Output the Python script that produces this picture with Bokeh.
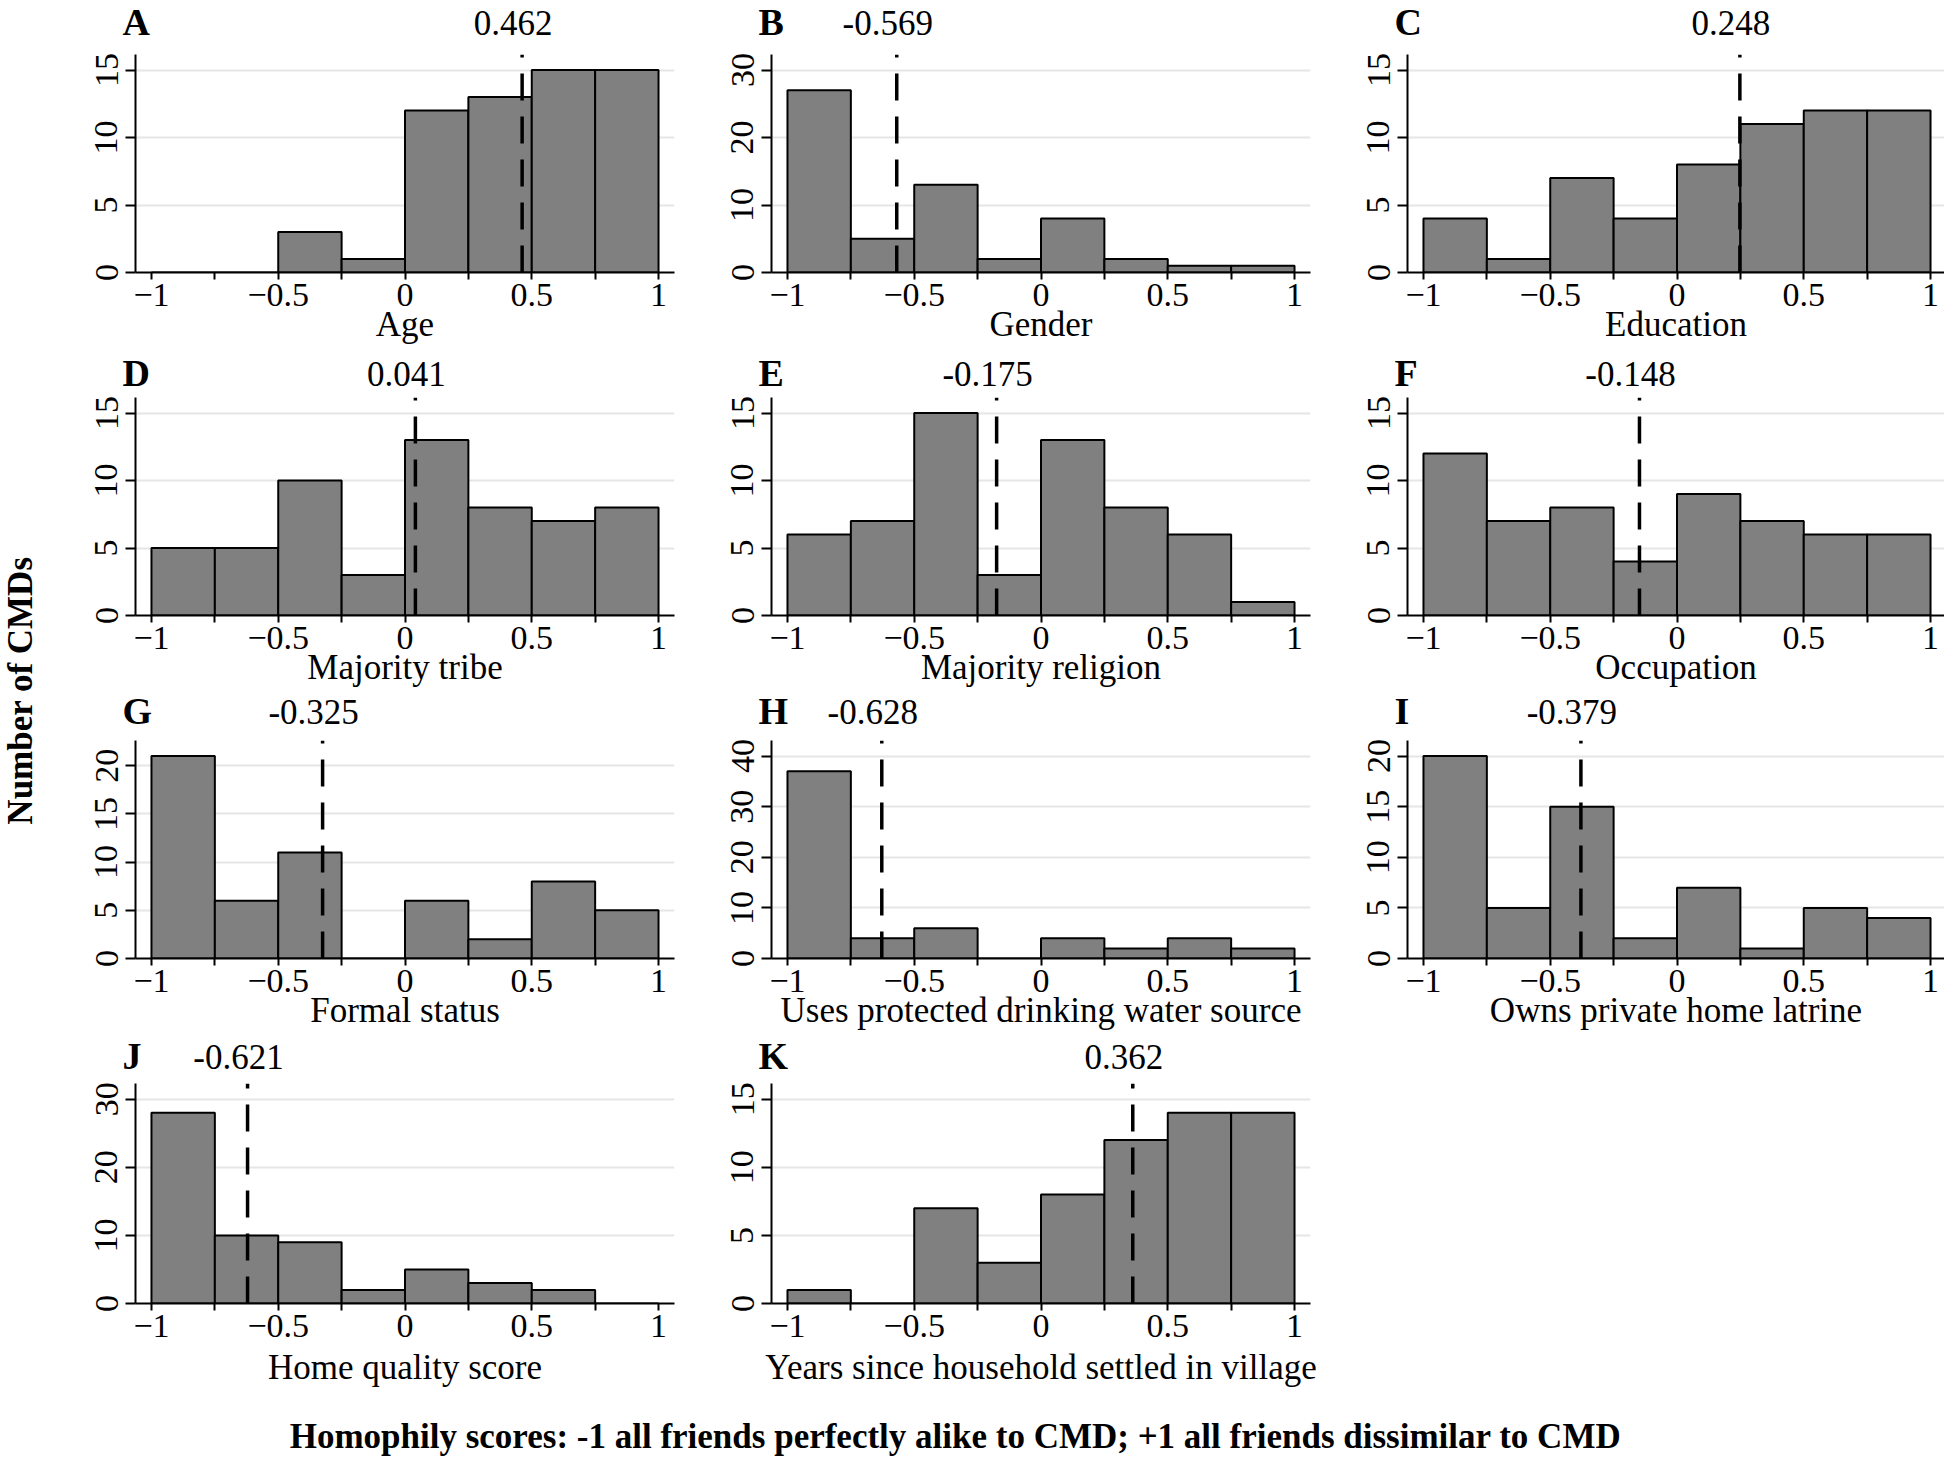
import math
from bokeh.plotting import figure
from bokeh.models import Range1d, FixedTicker, Label
from bokeh.layouts import row, column
from bokeh.embed import file_html
from bokeh.resources import INLINE

# ---------------- data ----------------
bin_edges = [-1.0, -0.75, -0.5, -0.25, 0.0, 0.25, 0.5, 0.75, 1.0]
x_ticks = [-1.0, -0.75, -0.5, -0.25, 0.0, 0.25, 0.5, 0.75, 1.0]
x_tick_labels = ["\u22121", "", "\u22120.5", "", "0", "", "0.5", "", "1"]

panel_letters = ["A", "B", "C", "D", "E", "F", "G", "H", "I", "J", "K"]
panel_titles = ["Age", "Gender", "Education", "Majority tribe", "Majority religion",
                "Occupation", "Formal status", "Uses protected drinking water source",
                "Owns private home latrine", "Home quality score",
                "Years since household settled in village"]

counts_age = [0, 0, 3, 1, 12, 13, 15, 15]
counts_gender = [27, 5, 13, 2, 8, 2, 1, 1]
counts_education = [4, 1, 7, 4, 8, 11, 12, 12]
counts_tribe = [5, 5, 10, 3, 13, 8, 7, 8]
counts_religion = [6, 7, 15, 3, 13, 8, 6, 1]
counts_occupation = [12, 7, 8, 4, 9, 7, 6, 6]
counts_formal = [21, 6, 11, 0, 6, 2, 8, 5]
counts_water = [37, 4, 6, 0, 4, 2, 4, 2]
counts_latrine = [20, 5, 15, 2, 7, 1, 5, 4]
counts_home = [28, 10, 9, 2, 5, 3, 2, 0]
counts_years = [1, 0, 7, 3, 8, 12, 14, 14]

mean_scores = [0.462, -0.569, 0.248, 0.041, -0.175, -0.148, -0.325, -0.628, -0.379, -0.621, 0.362]
mean_labels = ["0.462", "-0.569", "0.248", "0.041", "-0.175", "-0.148", "-0.325", "-0.628",
               "-0.379", "-0.621", "0.362"]

yticks_age = [0, 5, 10, 15]
yticks_gender = [0, 10, 20, 30]
yticks_education = [0, 5, 10, 15]
yticks_tribe = [0, 5, 10, 15]
yticks_religion = [0, 5, 10, 15]
yticks_occupation = [0, 5, 10, 15]
yticks_formal = [0, 5, 10, 15, 20]
yticks_water = [0, 10, 20, 30, 40]
yticks_latrine = [0, 5, 10, 15, 20]
yticks_home = [0, 10, 20, 30]
yticks_years = [0, 5, 10, 15]

y_axis_title = "Number of CMDs"
caption_text = "Homophily scores: -1 all friends perfectly alike to CMD; +1 all friends dissimilar to CMD"

all_counts = [counts_age, counts_gender, counts_education, counts_tribe, counts_religion,
              counts_occupation, counts_formal, counts_water, counts_latrine, counts_home,
              counts_years]
all_yticks = [yticks_age, yticks_gender, yticks_education, yticks_tribe, yticks_religion,
              yticks_occupation, yticks_formal, yticks_water, yticks_latrine, yticks_home,
              yticks_years]

# ---------------- style / geometry ----------------
FONT = "Liberation Serif"
BAR_FILL = "#808080"
GRID = "#e6e6e6"
FRAME_W = 539
FRAME_W_LAST = 537
FRAME_H = 220
LEFT = 87
COL_W = 636
YLAB_W = 48
HIST_TOP = 2
X0 = -1.063
PPX = FRAME_W / (2 * -X0)
header_heights = [52, 49, 49, 49]
bottom_borders = [72, 72, 72, 90]
label_offsets = [20, 12, 17, 15]       # px above frame for letter / value baseline
title_standoffs = [-4, -4, -4, 8]      # tuning of x-title distance
VALUE_SHIFT = 9                        # value text sits a little left of its line
CAP_H = 65
LETTER_SIZE = 38
VALUE_SIZE = 35
MID = 0.34                             # baseline -> middle of caps, in em


def text_fig(w, h, xr, yr):
    f = figure(width=w, height=h, x_range=xr, y_range=yr, min_border=0,
               min_border_left=0, min_border_right=0, min_border_top=0, min_border_bottom=0,
               output_backend="svg", toolbar_location=None, tools="",
               x_axis_type=None, y_axis_type=None)
    f.frame_align = False
    f.outline_line_color = None
    f.xgrid.visible = False
    f.ygrid.visible = False
    f.background_fill_color = None
    f.border_fill_color = None
    return f


def make_panel(i, col, r):
    counts = all_counts[i]
    yt = all_yticks[i]
    fw = FRAME_W if col < 2 else FRAME_W_LAST
    right = COL_W - LEFT - FRAME_W if col < 2 else 0
    bottom = bottom_borders[r]
    x1 = X0 + fw / PPX
    ytop = 1.077 * max(max(yt), max(counts))
    width = LEFT + fw + right

    p = figure(width=width, height=HIST_TOP + FRAME_H + bottom,
               x_range=Range1d(X0, x1), y_range=Range1d(0, ytop),
               min_border_left=LEFT, min_border_right=right,
               min_border_top=HIST_TOP, min_border_bottom=bottom,
               output_backend="svg", toolbar_location=None, tools="")
    p.frame_align = False
    p.outline_line_color = None
    p.background_fill_color = "white"
    p.border_fill_color = "white"

    p.quad(left=bin_edges[:-1], right=bin_edges[1:], bottom=0, top=counts,
           fill_color=BAR_FILL, line_color="black", line_width=2)
    m = mean_scores[i]
    p.segment(x0=[m], y0=[0], x1=[m], y1=[ytop], line_color="black",
              line_width=3.5, line_dash="27 16")

    for ax in (p.xaxis[0], p.yaxis[0]):
        ax.axis_line_width = 2
        ax.axis_line_color = "black"
        ax.major_tick_line_width = 2
        ax.major_tick_in = 0
        ax.minor_tick_out = 0
        ax.minor_tick_in = 0
        ax.major_label_text_font = FONT
        ax.major_label_text_font_size = "34px"
        ax.major_label_text_color = "black"
    p.xaxis.ticker = FixedTicker(ticks=x_ticks)
    p.xaxis.major_label_overrides = dict(zip(x_ticks, x_tick_labels))
    p.xaxis.major_tick_out = 7
    p.xaxis.major_label_standoff = 4
    p.xaxis.axis_label = panel_titles[i]
    p.xaxis.axis_label_text_font = FONT
    p.xaxis.axis_label_text_font_size = "35px"
    p.xaxis.axis_label_text_font_style = "normal"
    p.xaxis.axis_label_text_color = "black"
    p.xaxis.axis_label_standoff = title_standoffs[r]
    p.yaxis.ticker = FixedTicker(ticks=yt)
    p.yaxis.major_tick_out = 10
    p.yaxis.major_label_orientation = "vertical"
    p.yaxis.major_label_standoff = 8
    p.xgrid.visible = False
    p.ygrid.ticker = FixedTicker(ticks=yt)
    p.ygrid.grid_line_color = GRID
    p.ygrid.grid_line_width = 2

    # header with panel letter and mean value, sharing the x mapping of the panel
    hh = header_heights[r]
    h = text_fig(width, hh, Range1d(X0 - LEFT / PPX, X0 + (fw + right) / PPX),
                 Range1d(HIST_TOP, HIST_TOP + hh))
    ly = label_offsets[r]
    h.add_layout(Label(x=X0 - 13 / PPX, y=ly + MID * LETTER_SIZE, text=panel_letters[i],
                       text_font=FONT, text_font_style="bold",
                       text_font_size=f"{LETTER_SIZE}px",
                       text_baseline="middle", text_align="left", text_color="black"))
    h.add_layout(Label(x=m - VALUE_SHIFT / PPX, y=ly + MID * VALUE_SIZE, text=mean_labels[i],
                       text_font=FONT, text_font_size=f"{VALUE_SIZE}px",
                       text_baseline="middle", text_align="center", text_color="black"))
    return column(h, p)


rows = []
idx = 0
for r in range(4):
    cells = []
    for c in range(3):
        if idx >= len(all_counts):
            break
        cells.append(make_panel(idx, c, r))
        idx += 1
    rows.append(row(*cells))
grid = column(*rows)

grid_h = sum(header_heights) + 4 * (HIST_TOP + FRAME_H) + sum(bottom_borders)

ylab = text_fig(YLAB_W, grid_h, Range1d(0, YLAB_W), Range1d(0, grid_h))
ylab.add_layout(Label(x=20, y=grid_h - 690, text=y_axis_title, angle=math.pi / 2,
                      text_font=FONT, text_font_style="bold", text_font_size="35px",
                      text_align="center", text_baseline="middle", text_color="black"))

total_w = YLAB_W + 2 * COL_W + LEFT + FRAME_W_LAST
cap = text_fig(total_w, CAP_H, Range1d(0, total_w), Range1d(0, CAP_H))
cap.add_layout(Label(x=955, y=22, text=caption_text, text_font=FONT, text_font_style="bold",
                     text_font_size="35px", text_align="center", text_baseline="middle",
                     text_color="black"))

layout = column(row(ylab, grid), cap)
open("out.html", "w").write(file_html(layout, INLINE))
